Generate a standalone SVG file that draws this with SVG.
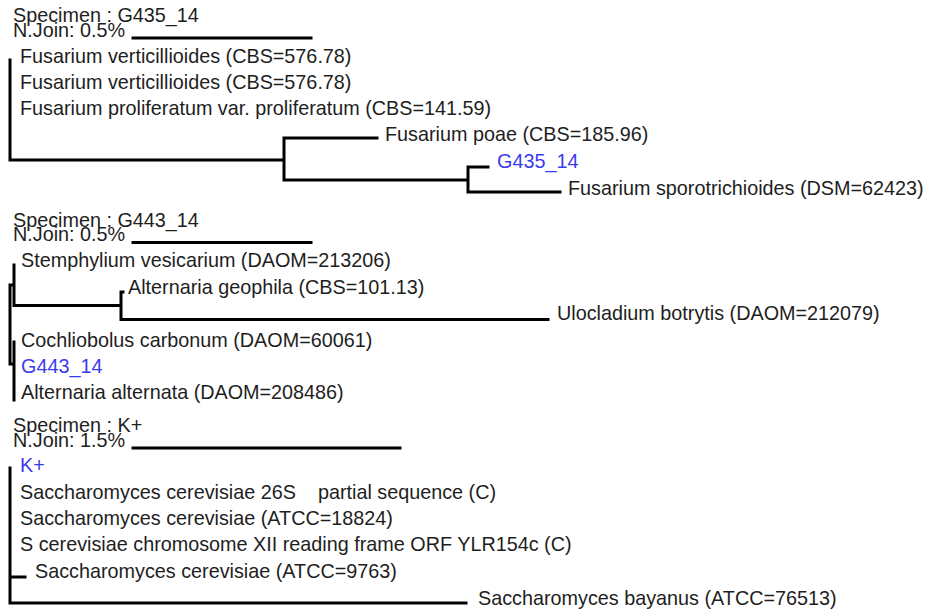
<svg xmlns="http://www.w3.org/2000/svg" width="929" height="610" viewBox="0 0 929 610">
<style>
text{font-family:"Liberation Sans",Arial,sans-serif;font-size:19.8px;fill:#1e1e1e;white-space:pre}
.q{fill:#3a3aee}
.e{fill:none;stroke:#000;stroke-width:3;stroke-linecap:square}
</style>
<rect width="929" height="610" fill="#fff"/>
<g id="header1"><text x="13" y="22">Specimen : G435_14</text><text x="13" y="36.5">N.Join: 0.5%</text></g>
<g id="header2"><text x="13" y="226.5">Specimen : G443_14</text><text x="13" y="241">N.Join: 0.5%</text></g>
<g id="header3"><text x="13" y="432">Specimen : K+</text><text x="13" y="446.5">N.Join: 1.5%</text></g>
<g id="leaf1a"><text x="20" y="62.5">Fusarium verticillioides (CBS=576.78)</text></g>
<g id="leaf1b"><text x="20" y="88.8">Fusarium verticillioides (CBS=576.78)</text></g>
<g id="leaf1c"><text x="20" y="115">Fusarium proliferatum var. proliferatum (CBS=141.59)</text></g>
<g id="leaf1d"><text x="385" y="141">Fusarium poae (CBS=185.96)</text></g>
<g id="leaf1e"><text class="q" x="497" y="167.5">G435_14</text></g>
<g id="leaf1f"><text x="568" y="195">Fusarium sporotrichioides (DSM=62423)</text></g>
<g id="leaf2a"><text x="21" y="267">Stemphylium vesicarium (DAOM=213206)</text></g>
<g id="leaf2b"><text x="128" y="293.5">Alternaria geophila (CBS=101.13)</text></g>
<g id="leaf2c"><text x="557" y="320">Ulocladium botrytis (DAOM=212079)</text></g>
<g id="leaf2d"><text x="21" y="346.5">Cochliobolus carbonum (DAOM=60061)</text></g>
<g id="leaf2e"><text class="q" x="21" y="372.5">G443_14</text></g>
<g id="leaf2f"><text x="21" y="398.5">Alternaria alternata (DAOM=208486)</text></g>
<g id="leaf3a"><text class="q" x="20" y="472">K+</text></g>
<g id="leaf3b"><text x="20" y="498.5">Saccharomyces cerevisiae 26S    partial sequence (C)</text></g>
<g id="leaf3c"><text x="20" y="525">Saccharomyces cerevisiae (ATCC=18824)</text></g>
<g id="leaf3d"><text x="20" y="551">S cerevisiae chromosome XII reading frame ORF YLR154c (C)</text></g>
<g id="leaf3e"><text x="35" y="577.5">Saccharomyces cerevisiae (ATCC=9763)</text></g>
<g id="leaf3f"><text x="478" y="605">Saccharomyces bayanus (ATCC=76513)</text></g>
<g id="connectors" class="e">
<path d="M133,38H311M133,242.5H311M133,448H400"/>
<path d="M10,60V160H284M284,138V180M284,138H377M284,180H468M468,167V192M468,167H488M468,192H560"/>
<path d="M14,265V305.5M10,285V364M10,285H14M10,364H14M14,305.5H121M121,292V319.5M121,292H123M121,319.5H548M14,342V400"/>
<path d="M10,468V603H466M10,577H25"/>
</g>
</svg>
